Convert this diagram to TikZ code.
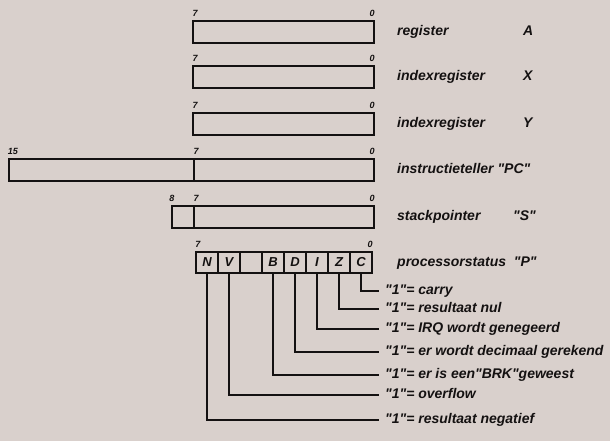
\documentclass[tikz,border=0pt]{standalone}
\usepackage{fontspec}
\setmainfont{Liberation Sans}
\usetikzlibrary{positioning}
\definecolor{paper}{HTML}{D9D0CC}
\definecolor{ink}{HTML}{141111}
\newcommand{\qq}[1]{\textquotedbl#1\textquotedbl}

\begin{document}
\begin{tikzpicture}[x=1pt, y=-1pt,
    regBox/.style={rectangle, draw=ink, line width=1.7pt, minimum height=22pt, inner sep=0pt, outer sep=0pt, anchor=north west},
    flagCell/.style={rectangle, draw=ink, line width=1.5pt, minimum width=22pt, minimum height=21pt, inner sep=0pt, outer sep=0pt, anchor=north west, font=\fontsize{13}{14}\selectfont\bfseries\itshape, text=ink},
    bitNum/.style={font=\fontsize{9}{10}\selectfont\bfseries\itshape, text=ink, inner sep=1pt, anchor=south},
    regText/.style={font=\fontsize{14}{16}\selectfont\bfseries\itshape, text=ink, inner sep=0pt, text height=10pt, text depth=3pt, anchor=west},
    flagLine/.style={draw=ink, line width=1.1pt}
]
    \fill[paper] (0,0) rectangle (610,441);
    \useasboundingbox (0,0) rectangle (610,441);

    % 8-bit registers
    \node[regBox, minimum width=181pt] (rA) at (193,21) {};
    \node[regBox, minimum width=181pt] (rX) at (193,66) {};
    \node[regBox, minimum width=181pt] (rY) at (193,113) {};
    \foreach \r in {rA,rX,rY}{
        \node[bitNum] at ([xshift=2pt,yshift=3pt]\r.north west) {7};
        \node[bitNum] at ([xshift=-2pt,yshift=3pt]\r.north east) {0};
    }

    % program counter and stack pointer
    \node[regBox, minimum width=185pt] (pcH) at (9,159) {};
    \node[regBox, minimum width=180pt, right=0pt of pcH] (pcL) {};
    \node[bitNum] at ([xshift=4pt,yshift=3pt]pcH.north west) {15};
    \node[bitNum] at ([xshift=2pt,yshift=3pt]pcL.north west) {7};
    \node[bitNum] at ([xshift=-2pt,yshift=3pt]pcL.north east) {0};

    \node[regBox, minimum width=22pt] (spH) at (172,206) {};
    \node[regBox, minimum width=180pt, right=0pt of spH] (spL) {};
    \node[bitNum] at ([xshift=0pt,yshift=3pt]spH.north west) {8};
    \node[bitNum] at ([xshift=2pt,yshift=3pt]spL.north west) {7};
    \node[bitNum] at ([xshift=-2pt,yshift=3pt]spL.north east) {0};

    % status register
    \foreach \f [count=\i from 0] in {N,V,{},B,D,I,Z,C}
        \node[flagCell] (f\i) at ({196+22*\i},252) {\f};
    \node[bitNum] at ([xshift=2pt,yshift=3pt]f0.north west) {7};
    \node[bitNum] at ([xshift=-2pt,yshift=3pt]f7.north east) {0};

    % register names
    \node[regText, right=23pt of rA] (tA) {register};
    \node[regText, right=23pt of rX] (tX) {indexregister};
    \node[regText, right=23pt of rY] (tY) {indexregister};
    \node[regText, right=23pt of pcL] (tPC) {instructieteller \qq{PC}};
    \node[regText, right=23pt of spL] (tS) {stackpointer};
    \node[regText] (tP) at (397,262.5) {processorstatus\ \ \qq{P}};
    \node[regText] (nA) at (523,32) {A};
    \node[regText] (nX) at (523,77) {X};
    \node[regText] (nY) at (523,124) {Y};
    \node[regText] (nS) at (513,217) {\qq{S}};

    % flag meanings
    \foreach \i/\y/\txt in {7/291/carry, 6/309/resultaat nul, 5/329/IRQ wordt genegeerd,
        4/352/er wordt decimaal gerekend, 3/375/{er is een\qq{BRK}geweest}, 1/395/overflow,
        0/420/resultaat negatief}{
        \node[regText] (l\i) at (385,\y) {\qq{1}= \txt};
        \draw[flagLine] (f\i.south) |- ([xshift=-6pt]l\i.west);
    }
\end{tikzpicture}
\end{document}
